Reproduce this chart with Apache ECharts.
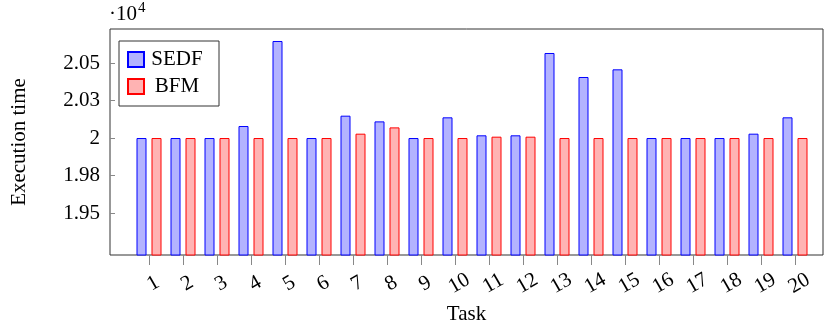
<!DOCTYPE html>
<html>
<head>
<meta charset="utf-8">
<script src="https://cdn.jsdelivr.net/npm/echarts@6/dist/echarts.min.js"></script>
<style>html,body{margin:0;padding:0;background:#fff;}#c{width:825px;height:324px;}</style>
</head>
<body>
<div id="c"></div>
<script>
var tasks = [1,2,3,4,5,6,7,8,9,10,11,12,13,14,15,16,17,18,19,20];
var sedf = [20000,20000,20000,20080,20647,20000,20149,20111,20000,20138,20018,20018,20567,20407,20458,20000,20000,20000,20029,20138];
var bfm  = [20000,20000,20000,20000,20000,20000,20029,20071,20000,20000,20009,20009,20000,20000,20000,20000,20000,20000,20000,20000];
var yTickValues = [19500,19750,20000,20250,20500];
var yTickLabels = ['1.95','1.98','2','2.03','2.05'];

var FONT = "'Liberation Serif','Times New Roman',serif";
var chart = echarts.init(document.getElementById('c'), null, {renderer:'canvas'});
function pairs(vals){ return tasks.map(function(t,i){ return [t, vals[i]]; }); }

chart.setOption({
  animation: false,
  backgroundColor: '#fff',
  textStyle: {fontFamily: FONT, color: '#000'},
  graphic: [{
    type: 'text', left: 109, top: 1, silent: true,
    style: {
      text: '{a|·10}{b|4}',
      rich: {
        a: {fontFamily: FONT, fontSize: 21, fontWeight: 'normal', fill: '#000', verticalAlign: 'bottom', lineHeight: 24},
        b: {fontFamily: FONT, fontSize: 15, fontWeight: 'normal', fill: '#000', verticalAlign: 'bottom', padding: [0,0,9,1], lineHeight: 15}
      }
    }
  }],
  grid: {left: 110, top: 29, right: 2, bottom: 69, show: true, borderColor: '#333', borderWidth: 1, backgroundColor: 'transparent', containLabel: false, outerBoundsMode: 'none'},
  legend: {
    orient: 'vertical', left: 119, top: 41,
    padding: [8, 14, 9, 8],
    itemWidth: 16, itemHeight: 15, itemGap: 6,
    borderColor: '#333', borderWidth: 1, borderRadius: 0, backgroundColor: '#fff',
    icon: 'rect',
    formatter: function(n){ return '{c|' + n + '}'; },
    textStyle: {rich: {c: {fontFamily: FONT, fontSize: 21, color: '#000', width: 56, align: 'center', lineHeight: 21}}},
    data: ['SEDF', 'BFM']
  },
  xAxis: {
    type: 'value',
    min: 1 - 39/34, max: 20 + 28/34,
    name: 'Task', nameLocation: 'middle', nameGap: 44,
    nameTextStyle: {fontFamily: FONT, fontSize: 21, color: '#000'},
    axisLine: {show: false},
    axisTick: {show: true, inside: false, length: 10, lineStyle: {color: '#888', width: 1}, customValues: tasks},
    axisLabel: {
      customValues: tasks, rotate: 30, margin: 31, align: 'center', verticalAlign: 'middle',
      padding: [0, 0, 0, 10],
      fontFamily: FONT, fontSize: 21, color: '#000',
      formatter: function(v){ return String(Math.round(v)); }
    },
    splitLine: {show: false}
  },
  yAxis: [{
    type: 'value',
    min: 19220, max: 20727,
    name: 'Execution time', nameLocation: 'middle', nameGap: 80,
    nameTextStyle: {fontFamily: FONT, fontSize: 21, color: '#000'},
    axisLine: {show: false},
    axisTick: {show: true, inside: false, length: 4, lineStyle: {color: '#888', width: 1}, customValues: yTickValues},
    axisLabel: {
      customValues: yTickValues, margin: 10,
      fontFamily: FONT, fontSize: 21, color: '#000',
      formatter: function(v){ var i = yTickValues.indexOf(v); return i >= 0 ? yTickLabels[i] : ''; }
    },
    splitLine: {show: false}
  }, {
    type: 'value', position: 'left', offset: 0,
    min: 19220, max: 20727,
    axisLine: {show: false},
    axisTick: {show: true, inside: true, length: 4, lineStyle: {color: '#888', width: 1}, customValues: yTickValues},
    axisLabel: {show: false},
    splitLine: {show: false}
  }],
  series: [{
    name: 'SEDF', type: 'bar', yAxisIndex: 0,
    data: pairs(sedf),
    barWidth: 10, barGap: '50%',
    itemStyle: {color: 'rgb(179,179,255)', borderColor: '#0000ff', borderWidth: 1}
  }, {
    name: 'BFM', type: 'bar', yAxisIndex: 0,
    data: pairs(bfm),
    barWidth: 10, barGap: '50%',
    itemStyle: {color: 'rgb(255,179,179)', borderColor: '#ff0000', borderWidth: 1}
  }]
});
</script>
</body>
</html>
